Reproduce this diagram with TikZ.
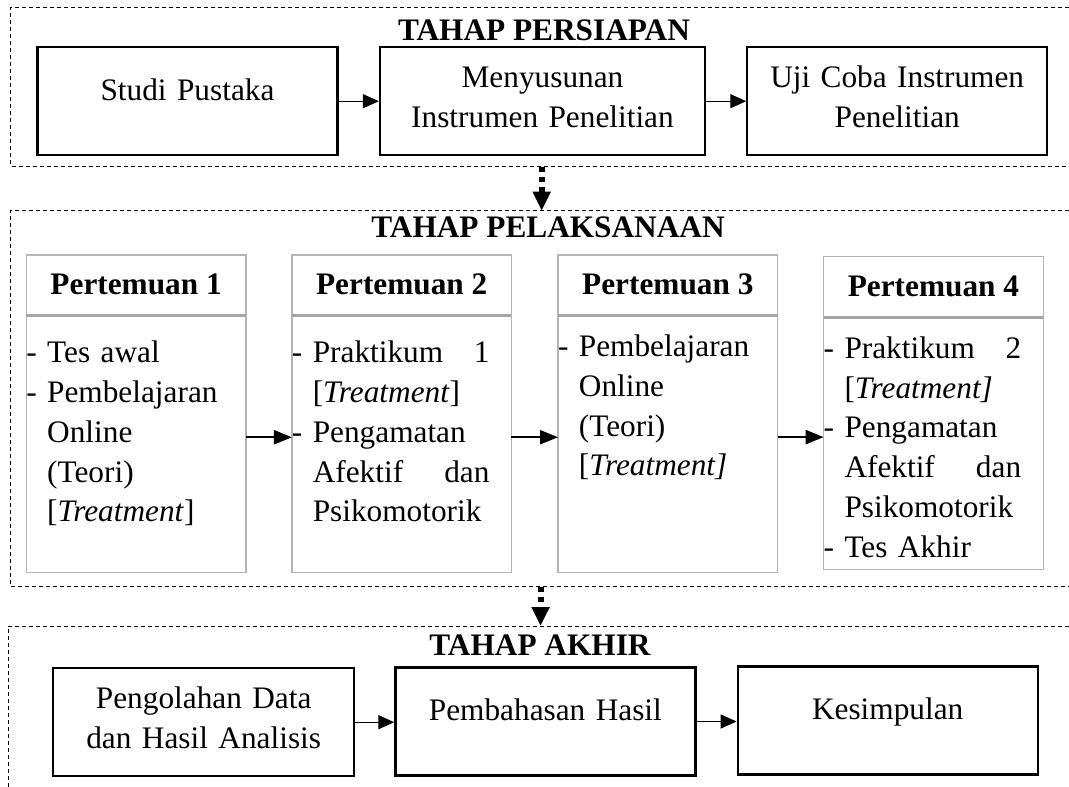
\documentclass[tikz,border=0pt]{standalone}
\usepackage{fontspec}
\setmainfont{Liberation Serif}
\usetikzlibrary{positioning,arrows.meta}
\definecolor{boxgray}{HTML}{B4B4B4}
\definecolor{divgray}{HTML}{A5A5A5}
\newlength{\pw}
\setlength{\pw}{197.5pt}
\newcommand{\ind}{\hphantom{-\ }}
\newcommand{\spread}[2]{\makebox[\pw][l]{#1\hfill#2}}

\begin{document}
\begin{tikzpicture}[x=1pt,y=-1pt,
  every node/.style={font=\fontsize{31.3}{39.5}\selectfont},
  stageframe/.style={line width=1pt, dash pattern=on 4pt off 3pt},
  title/.style={anchor=base, inner sep=0pt, font=\fontsize{31.3}{39.5}\selectfont\bfseries},
  stage/.style={draw, line width=2.2pt, inner sep=0pt, text width=285pt, align=center, minimum height=108pt, text height=22pt},
  oneline/.style={text depth=23.5pt},
  twoline/.style={text depth=49pt},
  phead/.style={draw=boxgray, line width=1.3pt, inner sep=0pt, outer sep=0pt, minimum width=219.5pt, minimum height=60.7pt, text height=22pt, text depth=3pt, font=\fontsize{31.3}{39.5}\selectfont\bfseries},
  pbody/.style 2 args={draw=boxgray, line width=1.3pt, inner sep=0pt, outer sep=0pt, text width=219.5pt, align=left, text height=#1, text depth=#2, font=\fontsize{31.3}{39.8}\selectfont},
  divider/.style={divgray, line width=3.3pt},
  arr/.style={line width=1.3pt, -{Triangle[length=16pt,width=14pt]}},
  parr/.style={line width=2.2pt, -{Triangle[length=18pt,width=14pt]}},
  darr/.style={line width=6pt, dash pattern=on 5pt off 5pt, -{Triangle[length=19pt,width=17pt]}}
]
\useasboundingbox (0,0) rectangle (1069,787);

% dashed stage frames
\draw[stageframe] (1069,7.3) -| (10.7,166) -- (1069,166);
\draw[stageframe] (1069,210.7) -| (10.5,586.7) -- (1069,586.7);
\draw[stageframe] (1069,626) -| (8.3,787);

% tahap persiapan
\node[title] (persiapan) at (544,40) {TAHAP PERSIAPAN};
\node[stage, oneline, minimum width=300pt] (studi) at (187.5,101.2) {Studi Pustaka};
\node[stage, twoline, minimum width=325pt] (susun) at (542.5,101.2) {Menyusunan\\Instrumen Penelitian};
\node[stage, twoline, minimum width=299.7pt] (uji) at (897.2,101.2) {Uji Coba Instrumen\\Penelitian};
\draw[arr] (studi) -- (susun);
\draw[arr] (susun) -- (uji);

\coordinate (persiapanout) at (541.7,166.5);
\coordinate (pelaksanaanin) at (541.7,210.7);
\draw[darr] (persiapanout) -- (pelaksanaanin);

% tahap pelaksanaan
\node[title] (pelaksanaan) at (548,237) {TAHAP PELAKSANAAN};

\node[phead] (h1) at (136.1,285.4) {Pertemuan 1};
\node[pbody={47pt}{210pt}, below=0pt of h1] (b1) {-\ Tes awal\\
-\ Pembelajaran\\
\ind Online\\
\ind (Teori)\\
\ind [\textit{Treatment}]};

\node[phead] (h2) at (401.7,285.4) {Pertemuan 2};
\node[pbody={47pt}{210pt}, below=0pt of h2] (b2) {\spread{-\ Praktikum}{1}\\
\ind [\textit{Treatment}]\\
-\ Pengamatan\\
\spread{\ind Afektif}{dan}\\
\ind Psikomotorik};

\node[phead] (h3) at (667.8,285.4) {Pertemuan 3};
\node[pbody={40.7pt}{216pt}, below=0pt of h3] (b3) {-\ Pembelajaran\\
\ind Online\\
\ind (Teori)\\
\ind [\textit{Treatment]}};

\node[phead] (h4) at (933.4,286.9) {Pertemuan 4};
\node[pbody={41pt}{211pt}, below=0pt of h4] (b4) {\spread{-\ Praktikum}{2}\\
\ind [\textit{Treatment]}\\
-\ Pengamatan\\
\spread{\ind Afektif}{dan}\\
\ind Psikomotorik\\
-\ Tes Akhir};

\draw[divider] (h1.south west) -- (h1.south east);
\draw[divider] (h2.south west) -- (h2.south east);
\draw[divider] (h3.south west) -- (h3.south east);
\draw[divider] (h4.south west) -- (h4.south east);

\draw[parr] ([yshift=7pt]b1.east) -- ([yshift=7pt]b1.east -| b2.west);
\draw[parr] ([yshift=7pt]b2.east) -- ([yshift=7pt]b2.east -| b3.west);
\draw[parr] ([yshift=7pt]b3.east) -- ([yshift=7pt]b3.east -| b4.west);

\coordinate (pelaksanaanout) at (540.6,587);
\coordinate (akhirin) at (540.6,626);
\draw[darr] (pelaksanaanout) -- (akhirin);

% tahap akhir
\node[title] (akhir) at (540,655) {TAHAP AKHIR};
\node[stage, twoline, minimum width=300.7pt] (olah) at (203.7,722.2) {Pengolahan Data\\dan Hasil Analisis};
\node[stage, oneline, minimum width=300pt] (bahas) at (545.4,721.5) {Pembahasan Hasil};
\node[stage, oneline, minimum width=300pt] (simpul) at (887.7,720.4) {Kesimpulan};
\draw[arr] (olah.east) -- (olah.east -| bahas.west);
\draw[arr] (bahas.east) -- (bahas.east -| simpul.west);
\end{tikzpicture}
\end{document}
